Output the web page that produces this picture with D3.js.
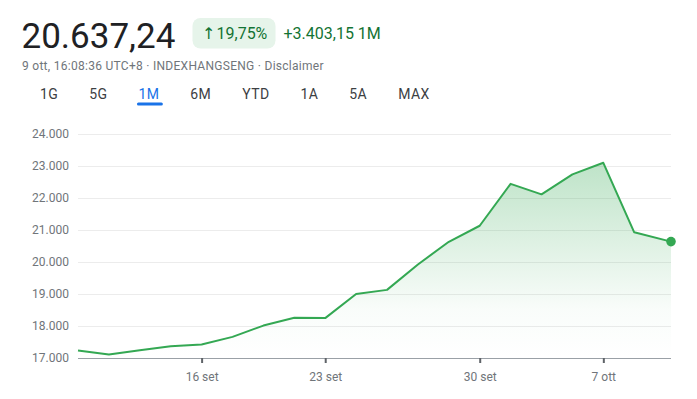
<!DOCTYPE html>
<html>
<head>
<meta charset="utf-8">
<script src="https://cdn.jsdelivr.net/npm/d3@7"></script>
<style>
  html, body { margin: 0; padding: 0; background: #fff; }
  svg { display: block; font-family: Roboto, "Noto Sans", sans-serif; }
</style>
</head>
<body>
<svg id="chart" width="697" height="399"></svg>
<script>
// Hang Seng, 1M view — trading days only (18 set and 1 ott are holidays).
const dates = ['10 set', '11 set', '12 set', '13 set', '16 set', '17 set', '19 set', '20 set',
  '23 set', '24 set', '25 set', '26 set', '27 set', '30 set', '2 ott', '3 ott', '4 ott',
  '7 ott', '8 ott', '9 ott'];
const closes = [17234, 17108, 17240, 17369, 17422, 17660, 18013, 18258, 18247, 19000, 19129,
  19924, 20632, 21133, 22443, 22114, 22737, 23100, 20927, 20637.24];
const tickDates = ['16 set', '23 set', '30 set', '7 ott'];
const yTicks = [17000, 18000, 19000, 20000, 21000, 22000, 23000, 24000];
const ranges = ['1G', '5G', '1M', '6M', 'YTD', '1A', '5A', 'MAX'];
const activeRange = '1M';
const quote = { price: '20.637,24', pct: '19,75%', change: '+3.403,15 1M',
  meta: '9 ott, 16:08:36 UTC+8 · INDEXHANGSENG · Disclaimer' };
// last quote is intraday (16:08), so it sits a little past the last session slot
const lastQuoteOffset = 0.19;

const svg = d3.select('#chart');
const green = '#34a853';

// ---- header ----
svg.append('text')
  .attr('x', 21.5).attr('y', 48)
  .attr('fill', '#202124')
  .style('font-size', '35px')
  .text(quote.price);

const badge = svg.append('g');
badge.append('rect')
  .attr('x', 192.5).attr('y', 18).attr('width', 83).attr('height', 30.5)
  .attr('rx', 8).attr('fill', '#e6f4ea');
badge.append('text')
  .attr('x', 202).attr('y', 38.5)
  .attr('fill', '#137333')
  .style('font-size', '16px')
  .style('font-family', '"DejaVu Sans", sans-serif')
  .attr('textLength', 10)
  .text('↑');
badge.append('text')
  .attr('x', 216.5).attr('y', 38.5)
  .attr('fill', '#137333')
  .style('font-size', '16px')
  .text(quote.pct);

svg.append('text')
  .attr('x', 283.5).attr('y', 38.5)
  .attr('fill', '#137333')
  .style('font-size', '16px')
  .text(quote.change);

svg.append('text')
  .attr('x', 22).attr('y', 70)
  .attr('fill', '#70757a')
  .style('font-size', '12px')
  .style('letter-spacing', '0.28px')
  .text(quote.meta);

// range tabs
const tabs = svg.append('g');
let tx = 40;
ranges.forEach((r) => {
  const t = tabs.append('text')
    .attr('x', tx).attr('y', 99)
    .attr('fill', r === activeRange ? '#1a73e8' : '#3c4043')
    .style('font-size', '14px')
    .style('letter-spacing', '0.4px')
    .text(r);
  const w = t.node().getComputedTextLength();
  if (r === activeRange) {
    tabs.append('line')
      .attr('x1', tx).attr('x2', tx + w + 2)
      .attr('y1', 104).attr('y2', 104)
      .attr('stroke', '#1a73e8').attr('stroke-width', 3)
      .attr('stroke-linecap', 'round');
  }
  tx += w + 31;
});

// ---- chart ----
const plot = { left: 78, right: 671, top: 134, bottom: 358 };
const points = closes.map((v, i) => ({
  date: dates[i],
  pos: i === closes.length - 1 ? i + lastQuoteOffset : i,
  value: v
}));

const x = d3.scaleLinear()
  .domain([0, closes.length - 1 + lastQuoteOffset])
  .range([plot.left, plot.right]);
const y = d3.scaleLinear()
  .domain([17000, 24000])
  .range([plot.bottom, plot.top]);

// gridlines + y labels
const yAxis = svg.append('g')
  .attr('transform', `translate(${plot.left},0)`)
  .call(d3.axisLeft(y).tickValues(yTicks)
    .tickSize(-(plot.right - plot.left))
    .tickPadding(9)
    .tickFormat((d) => d3.format(',')(d).replace(/,/g, '.')));
yAxis.select('.domain').remove();
yAxis.selectAll('.tick line').attr('stroke', '#ececec');
yAxis.selectAll('.tick text')
  .attr('fill', '#70757a')
  .style('font-size', '12px')
  .style('font-family', 'Roboto, sans-serif');

// area gradient
const defs = svg.append('defs');
const grad = defs.append('linearGradient')
  .attr('id', 'fade')
  .attr('gradientUnits', 'userSpaceOnUse')
  .attr('x1', 0).attr('x2', 0)
  .attr('y1', y(d3.max(closes))).attr('y2', plot.bottom);
grad.append('stop').attr('offset', 0).attr('stop-color', green).attr('stop-opacity', 0.32);
grad.append('stop').attr('offset', 0.75).attr('stop-color', green).attr('stop-opacity', 0.03);
grad.append('stop').attr('offset', 1).attr('stop-color', green).attr('stop-opacity', 0);

svg.append('path')
  .datum(points)
  .attr('fill', 'url(#fade)')
  .attr('d', d3.area()
    .x((d) => x(d.pos))
    .y0(plot.bottom)
    .y1((d) => y(d.value)));

// x axis
const xAxis = svg.append('g')
  .attr('transform', `translate(0,${plot.bottom})`)
  .call(d3.axisBottom(x)
    .tickValues(tickDates.map((d) => dates.indexOf(d)))
    .tickSize(5)
    .tickPadding(9)
    .tickFormat((i) => dates[i]));
xAxis.select('.domain')
  .attr('stroke', '#9aa0a6')
  .attr('d', `M${plot.left},0.5H${plot.right}`);
xAxis.selectAll('.tick line').attr('stroke', '#5f6368').attr('stroke-width', 2);
xAxis.selectAll('.tick text')
  .attr('fill', '#70757a')
  .style('font-size', '12px')
  .style('font-family', 'Roboto, sans-serif');

// price line
svg.append('path')
  .datum(points)
  .attr('fill', 'none')
  .attr('stroke', green)
  .attr('stroke-width', 2)
  .attr('stroke-linejoin', 'round')
  .attr('d', d3.line()
    .x((d) => x(d.pos))
    .y((d) => y(d.value)));

const last = points[points.length - 1];
svg.append('circle')
  .attr('cx', x(last.pos))
  .attr('cy', y(last.value))
  .attr('r', 4.8)
  .attr('fill', green);
</script>
</body>
</html>
